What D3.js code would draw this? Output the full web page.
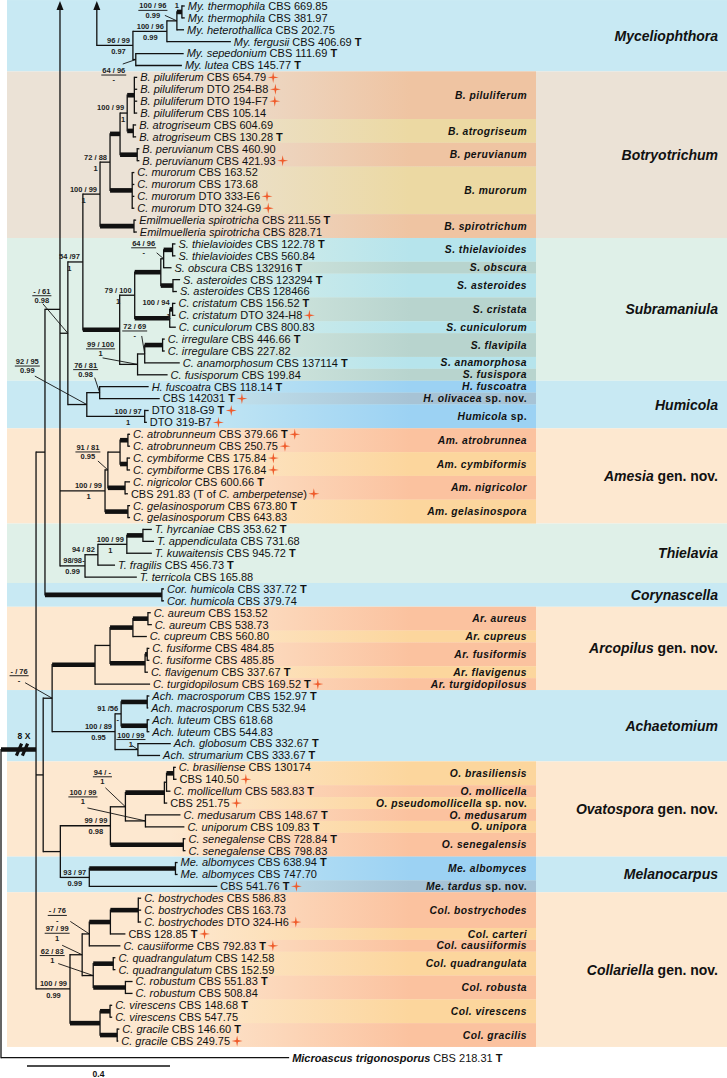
<!DOCTYPE html>
<html><head><meta charset="utf-8">
<script src="https://cdn.jsdelivr.net/npm/d3@7"></script>
<style>
body{margin:0;background:#fff;}
svg{display:block;font-family:"Liberation Sans",Arial,Helvetica,sans-serif;}
</style></head><body>
<svg id="chart" width="727" height="1078"></svg>
<script>
// ---------------- DATA ----------------
// Tree topology with branch lengths (substitutions/site), one Newick string per clade
const cladeMyceliophthora = "(((((L0:0.008,L1:0.008)THE:0.014,L2:0.020)M177:0.028,L3:0.179)M167:0.095,(L4:0.134,L5:0.129)SL:0.008)M135:0.101)MYC:0.103";
const cladeBotryotrichum = "(((((L6:0.008,L7:0.008,L8:0.008,L9:0.008)PIL:0.020,(L10:0.008,L11:0.008)ATRO:0.017)A:0.020,(L12:0.006,L13:0.006)PER:0.048)P1:0.028,(L14:0.006,L15:0.006,L16:0.006,L17:0.006)MUR:0.062)P2:0.028,(L18:0.006,L19:0.008)EMIL:0.095)P3:0.048";
const cladeSubramaniula = "(((((L20:0.008,L21:0.008)THV:0.025,L22:0.022)T1:0.008,(L23:0.020,L24:0.011)AST:0.034)T2:0.073,((L25:0.008,L26:0.008)C1:0.008,L27:0.017)C2:0.098)T3:0.042,(((L28:0.006,L29:0.006)IRR:0.050,L30:0.098)I1:0.020,L31:0.084)I2:0.050)S0:0.103";
const cladeHumicola = "((L32:0.137,L33:0.168)H1:0.036,(L34:0.011,L35:0.006)DTO:0.162)H0:0.053";
const cladeAmesia = "((((L36:0.006,L37:0.006)ATB:0.022,(L38:0.008,L39:0.008)CYM:0.020)A1:0.034,(L40:0.014,L41:0.008)NIG:0.048)A2:0.008,(L42:0.006,L43:0.006)GEL:0.064)AME:0.126";
const cladeThielavia = "((((L44:0.025,L45:0.031)HA:0.045,L46:0.070)TH1:0.081,L47:0.048)TH2:0.036,L48:0.145)THI:0.070";
const cladeCorynascella = "(L49:0.006,L50:0.006)COR:0.327";
const cladeArcopilus = "((((L51:0.008,L52:0.011)AUR:0.042,L53:0.039)AR1:0.064,((L54:0.006,L55:0.006)FUS:0.006,L56:0.008)AR2:0.098)AR3:0.042,L57:0.154)AR4:0.120";
const cladeAchaetomium = "(((L58:0.006,L59:0.003)MAC:0.073,(L60:0.006,L61:0.006)LUT:0.073)AC1:0.017,(L62:0.092,L63:0.062)AC2:0.064)AC3:0.176";
const cladeOvatospora = "(((((L64:0.006,L65:0.008)BRA:0.020,L66:0.011)O1:0.006,L67:0.008)O2:0.109,(L68:0.098,L69:0.109)O4:0.056)O3:0.042,(L70:0.006,L71:0.006)SEN:0.204)O5:0.140";
const cladeMelanocarpus = "((L72:0.006,L73:0.006)ALB:0.241,L74:0.358)MEL:0.081";
const cladeCollariella = "(((((L75:0.008,L76:0.008,L77:0.008)BOS:0.078,L78:0.042)CO1:0.059,L79:0.087)CO2:0.020,((L80:0.006,L81:0.006)QUA:0.056,(L82:0.020,L83:0.020)ROB:0.090)CO3:0.031)CO4:0.034,((L84:0.006,L85:0.006)VIR:0.028,(L86:0.006,L87:0.003)GRA:0.048)CO5:0.084)COL:0.095";
const treeNewick = `((((${cladeMyceliophthora},((${cladeBotryotrichum},${cladeSubramaniula})P4:0.042,${cladeHumicola})N68:0.022,${cladeAmesia},${cladeThielavia})N60:0.042,${cladeCorynascella})N45:0.025,((${cladeArcopilus},${cladeAchaetomium})AA:0.025,(${cladeOvatospora},${cladeMelanocarpus})OM:0.048)N43:0.020,${cladeCollariella})ING:0.098,L88:0.806)R;`;

const leafLabels = [
 "{My. thermophila} CBS 669.85","{My. thermophila} CBS 381.97","{My. heterothallica} CBS 202.75","{My. fergusii} CBS 406.69","{My. sepedonium} CBS 111.69","{My. lutea} CBS 145.77",
 "{B. piluliferum} CBS 654.79","{B. piluliferum} DTO 254-B8","{B. piluliferum} DTO 194-F7","{B. piluliferum} CBS 105.14","{B. atrogriseum} CBS 604.69","{B. atrogriseum} CBS 130.28",
 "{B. peruvianum} CBS 460.90","{B. peruvianum} CBS 421.93","{C. murorum} CBS 163.52","{C. murorum} CBS 173.68","{C. murorum} DTO 333-E6","{C. murorum} DTO 324-G9",
 "{Emilmuelleria spirotricha} CBS 211.55","{Emilmuelleria spirotricha} CBS 828.71",
 "{S. thielavioides} CBS 122.78","{S. thielavioides} CBS 560.84","{S. obscura} CBS 132916","{S. asteroides} CBS 123294","{S. asteroides} CBS 128466",
 "{C. cristatum} CBS 156.52","{C. cristatum} DTO 324-H8","{C. cuniculorum} CBS 800.83","{C. irregulare} CBS 446.66","{C. irregulare} CBS 227.82",
 "{C. anamorphosum} CBS 137114","{C. fusisporum} CBS 199.84",
 "{H. fuscoatra} CBS 118.14","CBS 142031","DTO 318-G9","DTO 319-B7",
 "{C. atrobrunneum} CBS 379.66","{C. atrobrunneum} CBS 250.75","{C. cymbiforme} CBS 175.84","{C. cymbiforme} CBS 176.84","{C. nigricolor} CBS 600.66",
 "CBS 291.83 (T of {C. amberpetense})","{C. gelasinosporum} CBS 673.80","{C. gelasinosporum} CBS 643.83",
 "{T. hyrcaniae} CBS 353.62","{T. appendiculata} CBS 731.68","{T. kuwaitensis} CBS 945.72","{T. fragilis} CBS 456.73","{T. terricola} CBS 165.88",
 "{Cor. humicola} CBS 337.72","{Cor. humicola} CBS 379.74",
 "{C. aureum} CBS 153.52","{C. aureum} CBS 538.73","{C. cupreum} CBS 560.80","{C. fusiforme} CBS 484.85","{C. fusiforme} CBS 485.85","{C. flavigenum} CBS 337.67","{C. turgidopilosum} CBS 169.52",
 "{Ach. macrosporum} CBS 152.97","{Ach. macrosporum} CBS 532.94","{Ach. luteum} CBS 618.68","{Ach. luteum} CBS 544.83","{Ach. globosum} CBS 332.67","{Ach. strumarium} CBS 333.67",
 "{C. brasiliense} CBS 130174","CBS 140.50","{C. mollicellum} CBS 583.83","CBS 251.75","{C. medusarum} CBS 148.67","{C. uniporum} CBS 109.83",
 "{C. senegalense} CBS 728.84","{C. senegalense} CBS 798.83",
 "{Me. albomyces} CBS 638.94","{Me. albomyces} CBS 747.70","CBS 541.76",
 "{C. bostrychodes} CBS 586.83","{C. bostrychodes} CBS 163.73","{C. bostrychodes} DTO 324-H6","CBS 128.85","{C. causiiforme} CBS 792.83",
 "{C. quadrangulatum} CBS 142.58","{C. quadrangulatum} CBS 152.59","{C. robustum} CBS 551.83","{C. robustum} CBS 508.84",
 "{C. virescens} CBS 148.68","{C. virescens} CBS 547.75","{C. gracile} CBS 146.60","{C. gracile} CBS 249.75",
 "[Microascus trigonosporus] CBS 218.31"
];
const typeLeaves = [3,4,5,11,18,20,22,23,25,28,30,32,33,34,36,40,42,44,46,47,49,56,57,58,62,63,66,68,69,70,72,74,78,79,82,84,86,88];
const newIsolateLeaves = [6,7,8,13,16,17,26,33,34,35,36,37,38,39,41,57,65,67,74,77,78,79,87];

const rowOverride = {N60: 25.5, ING: 62.5};
const outgroupRow = 88.4;
const detachedNodes = ["MYC"];
const arrowNodes = ["N60", "MYC"];
const boldBranches = ["THE","PIL","ATRO","PER","P1","MUR","EMIL","S0","T2","C2","THV","AST","C1","IRR","ATB","CYM","NIG","GEL","HA","COR","AR4","AR1","AR2","AUR","FUS","MAC","LUT","O2","BRA","SEN","ALB","CO5","CO1","BOS","QUA","ROB","VIR","GRA","ING"];

const supportNodes = ["THE","M177","M167","M135","SL","A","P2","P3","P4","T1","T3","C1","N68","I2","I1","H1","H0","DTO","A2","AME","TH1","TH2","THI","AA","AC1","AC3","AC2","O3","O4","O5","MEL","CO2","CO4","CO3","COL"];
const supportML = ["1","100 / 96","100 / 96","96 / 99","64 / 96","100 / 99","72 / 88","100 / 99","54 /97","64 / 96","79 / 100","100 / 94","- / 61","99 / 100","72 / 69","76 / 81","92 / 95","100 / 97","91 / 81","100 / 99","100 / 99","94 / 82","98/98","- / 76","91 /56","100 / 89","100 / 99","94 / -","100 / 99","99 / 99","93 / 97","- / 76","97 / 99","62 / 83","100 / 99"];
const supportPP = ["","0.99","0.99","0.97","-","1","1","1","1","-","1","1","0.98","1","-","0.98","0.99","1","0.95","1","1","-","0.99","-","-","0.95","1","1","1","0.98","0.99","-","1","1","0.99"];

const genusNames = ["{Myceliophthora}","{Botryotrichum}","{Subramaniula}","{Humicola}","{Amesia} gen. nov.","{Thielavia}","{Corynascella}","{Arcopilus} gen. nov.","{Achaetomium}","{Ovatospora} gen. nov.","{Melanocarpus}","{Collariella} gen. nov."];
const genusFirst = [0,6,20,32,36,44,49,51,58,64,72,75];
const genusLast  = [5,19,31,35,43,48,50,57,63,71,74,87];
const genusTone  = ["blue","beige","mint","blue","peach","mint","blue","peach","blue","peach","blue","peach"];

const speciesNames = ["{B. piluliferum}","{B. atrogriseum}","{B. peruvianum}","{B. murorum}","{B. spirotrichum}",
 "{S. thielavioides}","{S. obscura}","{S. asteroides}","{S. cristata}","{S. cuniculorum}","{S. flavipila}","{S. anamorphosa}","{S. fusispora}",
 "{H. fuscoatra}","{H. olivacea} sp. nov.","{Humicola} sp.",
 "{Am. atrobrunnea}","{Am. cymbiformis}","{Am. nigricolor}","{Am. gelasinospora}",
 "{Ar. aureus}","{Ar. cupreus}","{Ar. fusiformis}","{Ar. flavigenus}","{Ar. turgidopilosus}",
 "{O. brasiliensis}","{O. mollicella}","{O. pseudomollicella} sp. nov.","{O. medusarum}","{O. unipora}","{O. senegalensis}",
 "{Me. albomyces}","{Me. tardus} sp. nov.",
 "{Col. bostrychodes}","{Col. carteri}","{Col. causiiformis}","{Col. quadrangulata}","{Col. robusta}","{Col. virescens}","{Col. gracilis}"];
const speciesFirst = [6,10,12,14,18, 20,22,23,25,27,28,30,31, 32,33,34, 36,38,40,42, 51,53,54,56,57, 64,66,67,68,69,70, 72,74, 75,78,79,80,82,84,86];
const speciesLast  = [9,11,13,17,19, 21,22,24,26,27,29,30,31, 32,33,35, 37,39,41,43, 52,53,55,56,57, 65,66,67,68,69,71, 73,74, 77,78,79,81,83,85,87];
const speciesTone  = ["o1","y1","o1","y1","o1", "c","g","c","g","c","g","c","g", "b","bg","b", "s","y","s","y", "s","y","s","y","s", "y","s","y","s","y","s", "b","bg", "s","y","s","y","s","y","s"];

const scaleBarValue = 0.4;

// ---------------- STYLE ----------------
const toneColor = {blue:"#c8e9f3", beige:"#ebe2d6", mint:"#dff0e8", peach:"#fde8d0",
  o1:"#efc4a2", y1:"#ecd9a3", c:"#b6e4ec", g:"#b8d4ce", b:"#9cd2f3", bg:"#a7c3d5", s:"#fbc29f", y:"#fcd69d"};
const W = 727, H = 1078;
const svg = d3.select("#chart");
const defs = svg.append("defs");

// ---------------- PARSE ----------------
function parseNewick(s){
  let i = 0;
  function node(){
    const n = {children: []};
    if (s[i] === "("){
      i++; n.children.push(node());
      while (s[i] === ","){ i++; n.children.push(node()); }
      i++;
    }
    let name = "";
    while (i < s.length && !",):;".includes(s[i])) name += s[i++];
    n.name = name;
    n.length = 0;
    if (s[i] === ":"){ i++; let num = ""; while (i < s.length && !",);".includes(s[i])) num += s[i++]; n.length = +num; }
    if (!n.children.length) delete n.children;
    return n;
  }
  return node();
}

const root = d3.hierarchy(parseNewick(treeNewick));
const detached = new Set(detachedNodes), arrows = new Set(arrowNodes), bold = new Set(boldBranches);
const xScale = d3.scaleLinear().domain([0, scaleBarValue]).range([1, 144]);
const yScale = d3.scaleLinear().domain([0, 87]).range([6, 1041]);
const step = yScale(1) - yScale(0);

root.eachBefore(d => { d.dist = (d.parent ? d.parent.dist : 0) + d.data.length; d.x = xScale(d.dist); });
root.eachAfter(d => {
  if (!d.children){ const k = +d.data.name.slice(1); d.idx = k; d.row = k === 88 ? outgroupRow : k; }
  else if (rowOverride[d.data.name] != null) d.row = rowOverride[d.data.name];
  else { const ch = d.children.filter(c => !detached.has(c.data.name)); d.row = (ch[0].row + ch[ch.length-1].row) / 2; }
  d.y = yScale(d.row);
});
const byName = {}; root.each(d => byName[d.data.name] = d);

// ---------------- BANDS ----------------
const bandLayer = svg.append("g");
genusNames.forEach((nm, i) => {
  const y0 = yScale(genusFirst[i]) - step/2, y1 = yScale(genusLast[i]) + step/2;
  bandLayer.append("rect").attr("x", 7).attr("y", y0).attr("width", W - 7).attr("height", y1 - y0).attr("fill", toneColor[genusTone[i]]);
});
const gradTones = Array.from(new Set(speciesTone));
gradTones.forEach(t => {
  const lg = defs.append("linearGradient").attr("id", "grad-" + t).attr("gradientUnits", "userSpaceOnUse")
    .attr("x1", 170).attr("x2", 410).attr("y1", 0).attr("y2", 0);
  lg.append("stop").attr("offset", 0).attr("stop-color", toneColor[t]).attr("stop-opacity", 0);
  lg.append("stop").attr("offset", 1).attr("stop-color", toneColor[t]).attr("stop-opacity", 1);
});
speciesNames.forEach((nm, i) => {
  const y0 = yScale(speciesFirst[i]) - step/2, y1 = yScale(speciesLast[i]) + step/2;
  bandLayer.append("rect").attr("x", 7).attr("y", y0).attr("width", 536 - 7).attr("height", y1 - y0).attr("fill", `url(#grad-${speciesTone[i]})`);
});

function richText(sel, str, italicWeight){
  const parts = str.split(/(\{[^}]*\}|\[[^\]]*\])/).filter(p => p.length);
  parts.forEach(p => {
    const ts = sel.append("tspan");
    if (p[0] === "{"){ ts.text(p.slice(1,-1)).attr("font-style","italic"); if (italicWeight) ts.attr("font-weight", italicWeight); }
    else if (p[0] === "["){ ts.text(p.slice(1,-1)).attr("font-style","italic").attr("font-weight","bold"); }
    else ts.text(p);
  });
}

const labLayer = svg.append("g");
speciesNames.forEach((nm, i) => {
  const yc = (yScale(speciesFirst[i]) + yScale(speciesLast[i])) / 2;
  const t = labLayer.append("text").attr("x", 527).attr("y", yc + 3.6).attr("text-anchor","end")
    .attr("font-size", 10.3).attr("font-weight","bold").attr("letter-spacing", 0.45).attr("fill","#111");
  richText(t, nm);
});
genusNames.forEach((nm, i) => {
  const yc = (yScale(genusFirst[i]) + yScale(genusLast[i])) / 2;
  const t = labLayer.append("text").attr("x", 718).attr("y", yc + 5).attr("text-anchor","end")
    .attr("font-size", 14).attr("font-weight","bold").attr("fill","#111");
  richText(t, nm);
});

// ---------------- TREE ----------------
const treeLayer = svg.append("g").attr("stroke","#111").attr("fill","none");
const topY = 9;
root.descendants().forEach(d => {
  if (d.parent && !detached.has(d.data.name)){
    treeLayer.append("line").attr("x1", d.parent.x).attr("x2", d.x).attr("y1", d.y).attr("y2", d.y)
      .attr("stroke-width", bold.has(d.data.name) ? 4.6 : 1.3);
  }
  if (d.children){
    const ch = d.children.filter(c => !detached.has(c.data.name));
    let ya = ch.length ? d3.min(ch, c => c.y) : d.y, yb = ch.length ? d3.max(ch, c => c.y) : d.y;
    if (arrows.has(d.data.name)) ya = topY;
    treeLayer.append("line").attr("x1", d.x).attr("x2", d.x).attr("y1", ya - 0.65).attr("y2", yb + 0.65).attr("stroke-width", 1.3);
    if (arrows.has(d.data.name)){
      svg.append("path").attr("d", `M${d.x-3.5},${topY+1}L${d.x},${1}L${d.x+3.5},${topY+1}Z`).attr("fill","#111");
    }
  }
});

// root-branch break marks
const ing = byName["ING"];
const brk = svg.append("g");
[19, 25].forEach(cx => brk.append("line").attr("x1", cx - 2.6).attr("y1", ing.y + 6).attr("x2", cx + 2.6).attr("y2", ing.y - 6)
  .attr("stroke", "#111").attr("stroke-width", 3.2));
brk.append("text").attr("x", 24).attr("y", ing.y - 11).attr("text-anchor","middle").attr("font-size", 8.5).attr("font-weight","bold").attr("fill","#111").text("8 X");

// ---------------- LEAF LABELS ----------------
const typeSet = new Set(typeLeaves), newSet = new Set(newIsolateLeaves);
const leafLayer = svg.append("g");
root.leaves().forEach(d => {
  const t = leafLayer.append("text").attr("x", d.x + 3).attr("y", d.y + 3.9).attr("font-size", 11).attr("fill","#111");
  richText(t, leafLabels[d.idx]);
  if (typeSet.has(d.idx)){ t.append("tspan").text(" "); t.append("tspan").attr("font-weight","bold").text("T"); }
  if (newSet.has(d.idx)){
    const w = t.node().getComputedTextLength();
    const cx = d.x + 3 + w + 7, cy = d.y;
    leafLayer.append("path").attr("d", `M${cx},${cy-5.5}L${cx+0.9},${cy-0.9}L${cx+5.5},${cy}L${cx+0.9},${cy+0.9}L${cx},${cy+5.5}L${cx-0.9},${cy+0.9}L${cx-5.5},${cy}L${cx-0.9},${cy-0.9}Z`)
      .attr("fill","#ef5b2b");
  }
});

// ---------------- SUPPORT VALUES ----------------
// callout placement: [dx, dy] of label bar centre from node, [sx, sy] leader start from bar centre
const calloutLayout = {
  M177:[-24,-10.5,12,5], SL:[-22,15.5,9,-11], T1:[-20,-11,13,5], N68:[-26,-37.5,1,8], I2:[-37,-15.5,2,9],
  I1:[-10,-23,7,5], H1:[-14,-23,9,8], H0:[-59.5,-38.5,7.5,10], A2:[-20,-18,10,9], AA:[-33,-22.5,6,7],
  AC2:[-7,-10,1,6], O3:[-23,-30,3,11], O4:[-62.5,-24,4.5,11], CO2:[-32,-18.5,13,6], CO4:[-25,-21.5,5,12], CO3:[-41,-20,6,8]
};
const bottomNearNode = new Set(["A","AC1","C1"]);
const supLayer = svg.append("g").attr("font-size", 7.5).attr("font-weight","bold").attr("fill","#222");
supportNodes.forEach((nm, i) => {
  const n = byName[nm], top = supportML[i], bot = supportPP[i], lay = calloutLayout[nm];
  if (lay){
    const cx = n.x + lay[0], by = n.y + lay[1];
    const tt = supLayer.append("text").attr("x", cx).attr("y", by - 2).attr("text-anchor","middle").text(top);
    const w = tt.node().getComputedTextLength();
    supLayer.append("line").attr("x1", cx - w/2 - 1).attr("x2", cx + w/2 + 1).attr("y1", by).attr("y2", by).attr("stroke","#222").attr("stroke-width", 1);
    if (bot) supLayer.append("text").attr("x", cx).attr("y", by + 7.3).attr("text-anchor","middle").text(bot);
    supLayer.append("line").attr("x1", cx + lay[2]).attr("y1", by + lay[3]).attr("x2", n.x).attr("y2", n.y).attr("stroke","#111").attr("stroke-width", 0.9);
  } else {
    const thick = bold.has(nm);
    const tt = supLayer.append("text").attr("text-anchor","middle").text(top);
    const w = tt.node().getComputedTextLength();
    const cx = n.x - w/2 - 3;
    tt.attr("x", cx).attr("y", n.y - (thick ? 4 : 2.6));
    if (bot){
      const b = supLayer.append("text").attr("y", n.y + (thick ? 10 : 8.6)).text(bot);
      if (bottomNearNode.has(nm)) b.attr("x", n.x - 2).attr("text-anchor","end");
      else b.attr("x", cx).attr("text-anchor","middle");
    }
  }
});

// ---------------- SCALE BAR ----------------
const sbY = 1066, sbX = 27;
const sbLen = xScale(scaleBarValue) - xScale(0);
svg.append("line").attr("x1", sbX).attr("x2", sbX + sbLen).attr("y1", sbY).attr("y2", sbY).attr("stroke","#111").attr("stroke-width", 1.4);
svg.append("text").attr("x", sbX + sbLen/2).attr("y", 1077).attr("text-anchor","middle").attr("font-size", 8.5).attr("font-weight","bold").attr("fill","#111").text(String(scaleBarValue));
</script></body></html>
